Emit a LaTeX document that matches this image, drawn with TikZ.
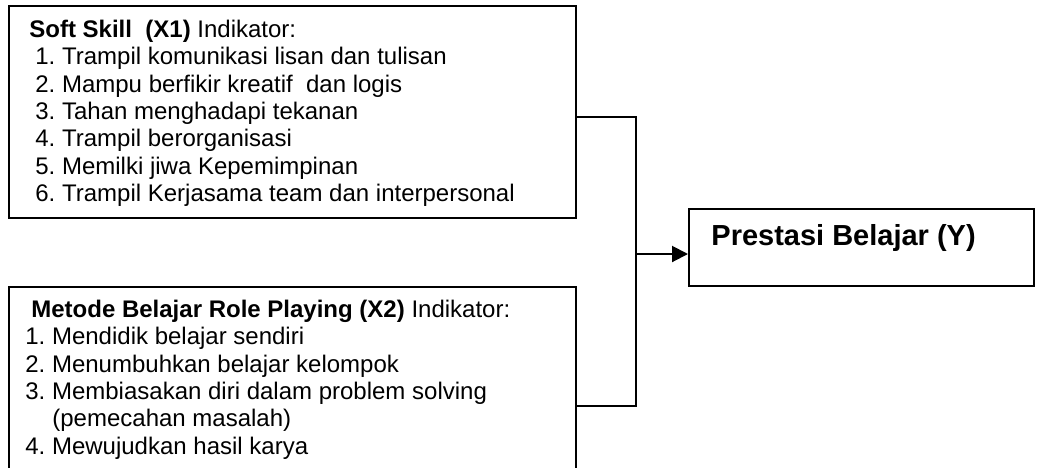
\documentclass[tikz,border=0pt]{standalone}
\usepackage{fontspec}
\setmainfont{Liberation Sans}
\usetikzlibrary{arrows.meta}
\frenchspacing
\begin{document}
\begin{tikzpicture}[x=0.5pt,y=-0.5pt,
  boxstyle/.style={draw=black, line width=1pt, inner sep=0pt, anchor=north west},
  txt/.style={anchor=base west, inner sep=0pt, font=\fontsize{12}{14}\selectfont\frenchspacing},
  ytxt/.style={anchor=base west, inner sep=0pt, font=\fontsize{14.5}{17}\selectfont\bfseries},
  conn/.style={line width=1pt},
  ]
\useasboundingbox (0,0) rectangle (1038,467);
\begin{scope}
\clip (0,0) rectangle (1038,467);
% boxes
\node[boxstyle, minimum width=283.5pt, minimum height=106pt] (box1) at (8,5) {};
\node[boxstyle, minimum width=283.5pt, minimum height=107pt] (box2) at (8,286) {};
\node[boxstyle, minimum width=172.5pt, minimum height=38.5pt] (boxY) at (688,208) {};
% box 1 text
\node[txt] (t10) at (29,37) {\textbf{Soft Skill\ \ (X1)} Indikator:};
\node[txt] (t11) at (35,64) {1. Trampil komunikasi lisan dan tulisan};
\node[txt] (t12) at (35,92) {2. Mampu berfikir kreatif\ \ dan logis};
\node[txt] (t13) at (35,119) {3. Tahan menghadapi tekanan};
\node[txt] (t14) at (35,146) {4. Trampil berorganisasi};
\node[txt] (t15) at (35,174) {5. Memilki jiwa Kepemimpinan};
\node[txt] (t16) at (35,201) {6. Trampil Kerjasama team dan interpersonal};
% box 2 text
\node[txt] (t20) at (31,317) {\textbf{Metode Belajar Role Playing (X2)} Indikator:};
\node[txt] (t21) at (25,344) {1. Mendidik belajar sendiri};
\node[txt] (t22) at (25,372) {2. Menumbuhkan belajar kelompok};
\node[txt] (t23) at (25,399) {3. Membiasakan diri dalam problem solving};
\node[txt] (t24) at (52,426) {(pemecahan masalah)};
\node[txt] (t25) at (25,454) {4. Mewujudkan hasil karya};
% box Y text
\node[ytxt] (ty) at (711,245) {Prestasi Belajar (Y)};
% connectors
\coordinate (c1) at (636,117);
\coordinate (c2) at (636,406);
\coordinate (c3) at (636,254);
\draw[conn] (box1.east |- c1) -- (c1) -- (c2) -- (box2.east |- c2);
\draw[conn, -{Triangle[length=8pt,width=8pt]}] (c3) -- (boxY.west |- c3);
\end{scope}
\end{tikzpicture}
\end{document}
